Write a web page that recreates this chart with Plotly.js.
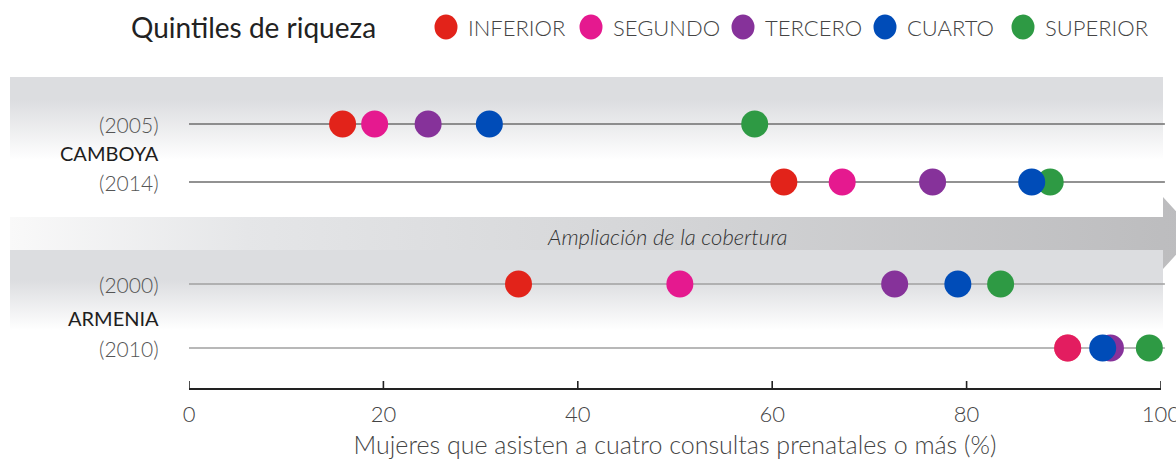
<!DOCTYPE html>
<html><head><meta charset="utf-8">
<script src="https://cdn.plot.ly/plotly-3.0.1.min.js"></script>
<style>html,body{margin:0;padding:0;background:#fff}#chart{width:1176px;height:459px}</style>
</head><body><div id="chart"></div>
<script>
// ---- data ----
const quintiles = ["INFERIOR", "SEGUNDO", "TERCERO", "CUARTO", "SUPERIOR"];
const rowLabels = ["(2005)", "(2014)", "(2000)", "(2010)"];
const countries = ["CAMBOYA", "ARMENIA"];
const inferior = [15.8, 61.2, 33.9, 90.4];
const segundo  = [19.1, 67.2, 50.5, 90.4];
const tercero  = [24.6, 76.5, 72.6, 94.8];
const cuarto   = [30.9, 86.7, 79.1, 94.0];
const superior = [58.2, 88.6, 83.5, 98.8];
const xTicks = [0, 20, 40, 60, 80, 100];
const xTitle = "Mujeres que asisten a cuatro consultas prenatales o más (%)";
const legendTitle = "Quintiles de riqueza";
const arrowText = "Ampliación de la cobertura";

// ---- layout / style ----
const W = 1176, H = 459;
const x0px = 189, x100px = 1161, axisPx = 388;
const ppu = (x100px - x0px) / 100;
const px2x = p => (p - x0px) / ppu;
const py = p => H - p;                        // pixel row -> y (from bottom)
const rowY = [124, 182, 284, 348].map(py);    // vertical layout positions
const countryY = [153, 318];
const colors = ["#e2231a", "#e5198f", "#86329a", "#004cb8", "#2e9a44"];
const series = [inferior, segundo, tercero, cuarto, superior];
const drawOrder = [0, 1, 2, 4, 3];
const legendX = [446, 591, 743, 885, 1023];
const lineEnd = 100.4;
const FONT = "Lato, 'Open Sans', sans-serif";
const GRAY = "#dcdde0";

const traces = [];
const bandL = px2x(10), bandR = px2x(1163);
function rect(top, bottom, extra) {
  return Object.assign({type: "scatter", mode: "lines", x: [bandL, bandR, bandR, bandL, bandL],
    y: [py(top), py(top), py(bottom), py(bottom), py(top)], fill: "toself", line: {width: 0},
    hoverinfo: "skip", showlegend: false}, extra);
}
function band(top, solidTo, fadeTo) {
  traces.push(rect(top, solidTo + 0.5, {fillcolor: GRAY}));
  traces.push(rect(solidTo, fadeTo, {fillgradient: {type: "vertical",
    colorscale: [[0, "#ffffff"], [1, GRAY]]}}));
}
band(77, 100, 160);
band(250, 280, 330);
(function () {
  const tip = px2x(1196);
  traces.push({type: "scatter", mode: "lines",
    x: [bandL, bandR, bandR, tip, bandR, bandR, bandL, bandL], y: [217, 217, 197, 233, 269, 250, 250, 217].map(py),
    fill: "toself", line: {width: 0}, hoverinfo: "skip", showlegend: false,
    fillgradient: {type: "horizontal",
      colorscale: [[0, "#f9f9f9"], [0.2, "#e5e6e8"], [0.55, "#d4d5d7"], [0.97, "#bdbdbf"], [1, "#bcbcbe"]]}});
})();
[["#6e6e6e", [0, 1]], ["#a0a0a0", [2, 3]]].forEach(([c, rows]) => {
  const xs = [], ys = [];
  rows.forEach(r => { xs.push(0, lineEnd, null); ys.push(rowY[r], rowY[r], null); });
  traces.push({type: "scatter", mode: "lines", x: xs, y: ys, line: {color: c, width: 1.6},
    hoverinfo: "skip", showlegend: false});
});
drawOrder.forEach(i => {
  // where the second quintile sits on top of the first, it is drawn see-through
  const op = series[i].map((v, k) => (i === 1 && Math.abs(v - inferior[k]) < 1) ? 0.6 : 1);
  traces.push({type: "scatter", mode: "markers", name: quintiles[i], x: series[i], y: rowY,
    marker: {color: colors[i], size: 27, opacity: op, line: {width: 0}}, cliponaxis: false, showlegend: false});
});
traces.push({type: "scatter", x: [], y: [], xaxis: "x2", yaxis: "y2", showlegend: false, hoverinfo: "skip"});

const annotations = [];
const shapes = [];
const L = (t, x, y, anchor, font) => annotations.push({xref: "paper", yref: "paper", x: x / W, y: 1 - y / H,
  xanchor: anchor, yanchor: "middle", text: t, showarrow: false, font});
rowLabels.forEach((t, i) => L(t, 161, H - rowY[i], "right", {family: FONT, size: 21, color: "#555", weight: 300}));
countries.forEach((t, i) => L(t, 161, countryY[i], "right", {family: FONT, size: 20, color: "#1e1e1e", weight: 400}));
L("<i>" + arrowText + "</i>", 667, 236, "center", {family: FONT, size: 22, color: "#333", weight: 300});
L(legendTitle, 129, 27, "left", {family: FONT, size: 28, color: "#222", weight: 400});
quintiles.forEach((q, i) => {
  shapes.push({type: "circle", xref: "paper", yref: "paper", xsizemode: "pixel", ysizemode: "pixel",
    xanchor: legendX[i] / W, yanchor: 1 - 27 / H, x0: -11.5, x1: 11.5, y0: -12.5, y1: 12.5,
    fillcolor: colors[i], line: {width: 0}});
  L(q, legendX[i] + 20, 27, "left", {family: FONT, size: 22, color: "#444", weight: 300});
});
// upward tick marks on the value axis
xTicks.forEach(v => shapes.push({type: "line", xref: "x2", yref: "paper", x0: v, x1: v,
  y0: 1 - axisPx / H, y1: 1 - (axisPx - 7) / H, line: {color: "#222", width: 1.6}}));

const layout = {
  width: W, height: H, margin: {l: 0, r: 0, t: 0, b: 0},
  paper_bgcolor: "#fff", plot_bgcolor: "rgba(0,0,0,0)", showlegend: false,
  xaxis: {domain: [0, 1], range: [px2x(0), px2x(W)], visible: false, fixedrange: true},
  yaxis: {domain: [0, 1], range: [0, H], visible: false, fixedrange: true},
  xaxis2: {domain: [x0px / W, x100px / W], range: [0, 100], anchor: "y2",
    tickvals: xTicks, ticks: "", ticklen: 0,
    showline: true, linecolor: "#222", linewidth: 1.6, showgrid: false, zeroline: false,
    ticklabeloverflow: "allow", ticklabelstandoff: 6,
    tickfont: {family: FONT, size: 22, color: "#444", weight: 300},
    title: {text: xTitle, standoff: 10, font: {family: FONT, size: 25, color: "#444", weight: 300}}},
  yaxis2: {domain: [(H - axisPx) / H, 1], range: [0, 1], anchor: "x2", visible: false},
  annotations, shapes
};
Plotly.newPlot("chart", traces, layout, {staticPlot: true});
</script></body></html>
